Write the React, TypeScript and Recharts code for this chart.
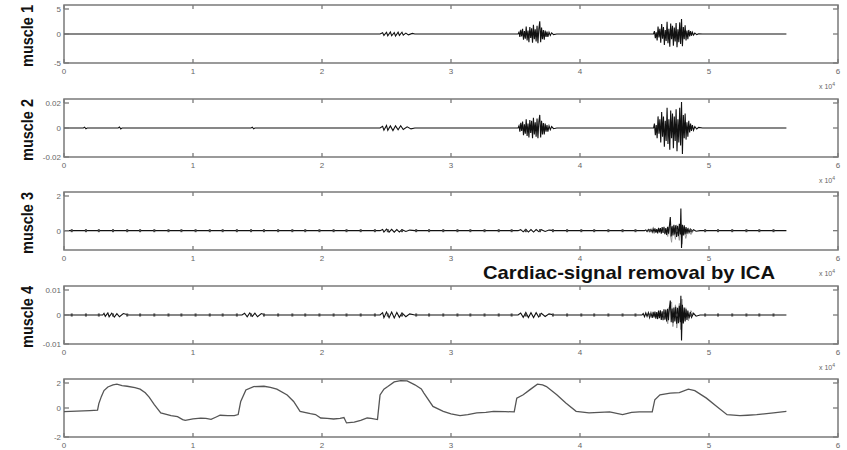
import { ComposedChart, Line, Scatter, XAxis, YAxis, ReferenceArea } from 'recharts';

// x values are sample index / 10^4
const xTicks = [0, 1, 2, 3, 4, 5, 6];

const muscle1: [number, number][] = [
  [0, 0], [2.45, 0],
  [2.47, 0.2], [2.48, -0.25], [2.5, 0.3], [2.51, -0.3], [2.53, 0.35], [2.54, -0.3], [2.56, 0.25],
  [2.57, -0.35], [2.59, 0.3], [2.6, -0.25], [2.62, 0.3], [2.63, -0.2], [2.65, 0.15], [2.67, -0.15],
  [2.7, 0.1], [2.72, 0], [3.52, 0],
  [3.527, 0.3], [3.534, -0.5], [3.541, 0.7], [3.548, -0.4], [3.555, 0.9], [3.562, -1.0], [3.569, 0.5],
  [3.576, -0.8], [3.583, 1.3], [3.59, -1.1], [3.597, 0.6], [3.604, -1.4], [3.611, 1.2], [3.618, -0.7],
  [3.625, 1.0], [3.632, -1.5], [3.639, 1.6], [3.646, -0.9], [3.653, 0.8], [3.66, -1.3], [3.667, 1.4],
  [3.674, -1.6], [3.681, 0.9], [3.688, 2.2], [3.695, -1.4], [3.702, 1.1], [3.709, -0.9], [3.716, 0.7],
  [3.723, -1.0], [3.73, 0.6], [3.737, -0.5], [3.744, 0.4], [3.751, -0.5], [3.76, 0.3], [3.77, -0.25],
  [3.78, 0.2], [3.795, -0.1], [3.82, 0], [4.57, 0],
  [4.577, 0.5], [4.584, -0.7], [4.591, 0.3], [4.598, -1.1], [4.605, 1.3], [4.612, -0.6], [4.619, 0.9],
  [4.626, -1.5], [4.633, 1.7], [4.64, -0.8], [4.647, 1.2], [4.654, -1.9], [4.661, 0.7], [4.668, -1.2],
  [4.675, 2.1], [4.682, -1.6], [4.689, 0.9], [4.696, -2.2], [4.703, 1.8], [4.71, -0.9], [4.717, 1.4],
  [4.724, -2.0], [4.731, 1.1], [4.738, -1.3], [4.745, 1.9], [4.752, -2.3], [4.759, 0.8], [4.766, -1.4],
  [4.773, 2.0], [4.78, -1.7], [4.787, 2.6], [4.794, -2.1], [4.801, 1.2], [4.808, -0.9], [4.815, 1.5],
  [4.822, -1.1], [4.829, 0.6], [4.836, -0.9], [4.843, 0.7], [4.85, -0.4], [4.857, 0.5], [4.864, -0.3],
  [4.871, 0.3], [4.88, -0.2], [4.89, 0.15], [4.905, -0.1], [4.92, 0.05], [4.95, 0], [5.6, 0],
];

const muscle2: [number, number][] = [
  [0, 0], [0.15, 0], [0.16, 0.0006], [0.17, -0.0005], [0.18, 0], [0.42, 0], [0.43, 0.0007],
  [0.44, -0.0006], [0.45, 0], [1.45, 0], [1.46, 0.0006], [1.47, -0.0006], [1.48, 0], [2.45, 0],
  [2.47, 0.0012], [2.48, -0.0015], [2.5, 0.0018], [2.51, -0.0016], [2.53, 0.0014], [2.55, -0.0018],
  [2.57, 0.0015], [2.59, -0.0012], [2.61, 0.0016], [2.63, -0.001], [2.66, 0.0008], [2.69, -0.0006],
  [2.72, 0], [3.52, 0],
  [3.527, 0.0015], [3.534, -0.0025], [3.541, 0.0035], [3.548, -0.002], [3.555, 0.0045], [3.562, -0.005],
  [3.569, 0.0025], [3.576, -0.004], [3.583, 0.006], [3.59, -0.0055], [3.597, 0.003], [3.604, -0.0065],
  [3.611, 0.0055], [3.618, -0.0035], [3.625, 0.005], [3.632, -0.007], [3.639, 0.007], [3.646, -0.0045],
  [3.653, 0.004], [3.66, -0.006], [3.667, 0.0065], [3.674, -0.007], [3.681, 0.0045], [3.688, 0.009],
  [3.695, -0.0065], [3.702, 0.005], [3.709, -0.0045], [3.716, 0.0035], [3.723, -0.0045], [3.73, 0.003],
  [3.737, -0.0025], [3.744, 0.002], [3.751, -0.0025], [3.76, 0.0015], [3.77, -0.0012], [3.78, 0.001],
  [3.795, -0.0005], [3.82, 0], [4.57, 0],
  [4.577, 0.003], [4.584, -0.005], [4.591, 0.002], [4.598, -0.007], [4.605, 0.008], [4.612, -0.004],
  [4.619, 0.006], [4.626, -0.01], [4.633, 0.011], [4.64, -0.006], [4.647, 0.008], [4.654, -0.013],
  [4.661, 0.005], [4.668, -0.009], [4.675, 0.014], [4.682, -0.011], [4.689, 0.006], [4.696, -0.015],
  [4.703, 0.012], [4.71, -0.007], [4.717, 0.01], [4.724, -0.014], [4.731, 0.008], [4.738, -0.009],
  [4.745, 0.013], [4.752, -0.016], [4.759, 0.006], [4.766, -0.01], [4.773, 0.014], [4.78, -0.012],
  [4.787, 0.018], [4.794, -0.018], [4.801, 0.009], [4.808, -0.007], [4.815, 0.01], [4.822, -0.008],
  [4.829, 0.004], [4.836, -0.006], [4.843, 0.005], [4.85, -0.003], [4.857, 0.003], [4.864, -0.002],
  [4.871, 0.002], [4.88, -0.0015], [4.89, 0.001], [4.905, -0.0007], [4.92, 0.0004], [4.95, 0], [5.6, 0],
];

const muscle3: [number, number][] = [
  [0, 0], [2.45, 0],
  [2.47, 0.06], [2.48, -0.07], [2.5, 0.08], [2.52, -0.08], [2.54, 0.07], [2.56, -0.08], [2.58, 0.06],
  [2.6, -0.07], [2.62, 0.05], [2.65, -0.04], [2.68, 0.03], [2.72, 0], [3.52, 0],
  [3.54, 0.05], [3.56, -0.06], [3.58, 0.07], [3.6, -0.07], [3.62, 0.06], [3.64, -0.07], [3.66, 0.06],
  [3.68, -0.05], [3.7, 0.05], [3.73, -0.04], [3.76, 0.03], [3.8, 0], [4.5, 0],
  [4.51, 0.04], [4.52, -0.05], [4.53, 0.06], [4.54, -0.04], [4.55, 0.07], [4.56, -0.08], [4.567, 0.1],
  [4.574, -0.07], [4.581, 0.12], [4.588, -0.1], [4.595, 0.08], [4.602, -0.14], [4.609, 0.15],
  [4.616, -0.09], [4.623, 0.13], [4.63, -0.16], [4.637, 0.18], [4.644, -0.12], [4.651, 0.2],
  [4.658, -0.18], [4.665, 0.14], [4.672, -0.22], [4.679, 0.2], [4.686, -0.15], [4.693, 0.25],
  [4.7, 0.7], [4.707, -0.3], [4.714, 0.22], [4.721, -0.25], [4.728, 0.3], [4.735, -0.2], [4.742, 0.28],
  [4.749, -0.32], [4.756, 0.24], [4.763, -0.28], [4.77, 0.35], [4.777, -0.2], [4.782, 1.15],
  [4.787, -0.9], [4.794, 0.3], [4.801, -0.25], [4.808, 0.28], [4.815, -0.2], [4.822, 0.18],
  [4.829, -0.15], [4.836, 0.12], [4.845, -0.1], [4.855, 0.08], [4.865, -0.06], [4.88, 0.05],
  [4.9, -0.03], [4.93, 0], [5.6, 0],
];

const muscle3Residual: [number, number][] = [
  [4.66, 0], [4.68, -0.3], [4.69, 0.2], [4.71, -0.6], [4.72, 0.25], [4.74, -0.45], [4.75, 0.3],
  [4.77, -0.5], [4.78, 0.4], [4.79, -0.7], [4.8, 0.2], [4.82, -0.4], [4.84, 0.15], [4.86, -0.2], [4.88, 0],
];

const muscle4: [number, number][] = [
  [0, 0], [0.3, 0], [0.31, 0.0006], [0.32, -0.0005], [0.34, 0.0007], [0.35, -0.0006], [0.37, 0.0006],
  [0.39, -0.0007], [0.41, 0.0005], [0.43, -0.0006], [0.46, 0.0005], [0.5, 0], [1.38, 0],
  [1.4, 0.0006], [1.42, -0.0006], [1.44, 0.0007], [1.46, -0.0005], [1.48, 0.0006], [1.5, -0.0006],
  [1.53, 0.0005], [1.56, 0], [2.45, 0],
  [2.47, 0.0008], [2.48, -0.0009], [2.5, 0.001], [2.52, -0.0009], [2.54, 0.001], [2.56, -0.001],
  [2.58, 0.0009], [2.6, -0.0008], [2.62, 0.0007], [2.65, -0.0006], [2.68, 0.0004], [2.72, 0], [3.52, 0],
  [3.54, 0.0007], [3.56, -0.0008], [3.58, 0.0009], [3.6, -0.0009], [3.62, 0.0008], [3.64, -0.0009],
  [3.66, 0.0008], [3.68, -0.0007], [3.7, 0.0006], [3.73, -0.0005], [3.76, 0.0004], [3.8, 0], [4.48, 0],
  [4.49, 0.0005], [4.5, -0.0006], [4.51, 0.0007], [4.52, -0.0005], [4.53, 0.0008], [4.54, -0.0009],
  [4.55, 0.0007], [4.56, -0.001], [4.567, 0.0011], [4.574, -0.0008], [4.581, 0.0012], [4.588, -0.0013],
  [4.595, 0.001], [4.602, -0.0014], [4.609, 0.0015], [4.616, -0.0011], [4.623, 0.0016], [4.63, -0.0017],
  [4.637, 0.0013], [4.644, -0.0018], [4.651, 0.002], [4.658, -0.0016], [4.665, 0.0019], [4.672, -0.0022],
  [4.679, 0.0021], [4.686, -0.0018], [4.693, 0.0023], [4.7, 0.005], [4.707, -0.0025], [4.714, 0.0022],
  [4.721, -0.0027], [4.728, 0.0026], [4.735, -0.0022], [4.742, 0.0028], [4.749, -0.003], [4.756, 0.0025],
  [4.763, -0.0028], [4.77, 0.0032], [4.777, -0.0025], [4.782, 0.0066], [4.787, -0.0088], [4.794, 0.0035],
  [4.801, -0.0028], [4.808, 0.0026], [4.815, -0.0022], [4.822, 0.002], [4.829, -0.0017], [4.836, 0.0015],
  [4.845, -0.0012], [4.855, 0.001], [4.865, -0.0008], [4.88, 0.0006], [4.9, -0.0004], [4.93, 0], [5.6, 0],
];

const muscle4Residual: [number, number][] = [
  [4.66, 0], [4.68, -0.003], [4.69, 0.0025], [4.71, 0.0045], [4.72, -0.004], [4.74, 0.0035],
  [4.75, -0.0045], [4.77, 0.004], [4.78, -0.005], [4.79, 0.0055], [4.8, -0.003], [4.82, 0.0025],
  [4.84, -0.002], [4.86, 0.0015], [4.88, 0],
];

// heartbeat residue seen along the baseline of muscles 3 and 4
const beats = [
  0.06, 0.17, 0.27, 0.38, 0.49, 0.59, 0.7, 0.81, 0.91, 1.02, 1.13, 1.23, 1.34, 1.45, 1.55, 1.66,
  1.77, 1.87, 1.98, 2.09, 2.19, 2.3, 2.41, 2.51, 2.62, 2.73, 2.83, 2.94, 3.05, 3.15, 3.26, 3.37,
  3.47, 3.58, 3.69, 3.79, 3.9, 4.01, 4.11, 4.22, 4.33, 4.43, 4.54, 4.65, 4.75, 4.86, 4.97, 5.07,
  5.18, 5.29, 5.39, 5.5,
];

const movement: [number, number][] = [
  [0, -0.25], [0.1, -0.22], [0.2, -0.18], [0.26, -0.15], [0.27, 0.3], [0.29, 0.8], [0.31, 1.2],
  [0.34, 1.45], [0.38, 1.6], [0.41, 1.64], [0.45, 1.55], [0.49, 1.5], [0.55, 1.4], [0.59, 1.3],
  [0.63, 1.05], [0.66, 0.75], [0.7, 0.23], [0.75, -0.34], [0.83, -0.53], [0.88, -0.6], [0.92, -0.8],
  [0.94, -0.85], [1.0, -0.75], [1.06, -0.7], [1.1, -0.72], [1.14, -0.78], [1.18, -0.62], [1.21, -0.5],
  [1.27, -0.52], [1.32, -0.53], [1.35, -0.45], [1.37, 0.45], [1.41, 1.25], [1.47, 1.48], [1.55, 1.5],
  [1.6, 1.42], [1.65, 1.3], [1.73, 0.9], [1.78, 0.45], [1.83, -0.23], [1.91, -0.39], [1.95, -0.45],
  [1.99, -0.69], [2.04, -0.72], [2.09, -0.76], [2.14, -0.72], [2.17, -0.66], [2.19, -1.03],
  [2.25, -0.98], [2.3, -0.85], [2.35, -0.69], [2.38, -0.72], [2.43, -0.8], [2.45, 0.9], [2.48, 1.3],
  [2.51, 1.48], [2.56, 1.8], [2.61, 1.89], [2.66, 1.87], [2.72, 1.6], [2.77, 1.32], [2.79, 1.03],
  [2.86, 0.11], [2.94, -0.23], [3.0, -0.4], [3.07, -0.53], [3.13, -0.45], [3.2, -0.34], [3.27, -0.3],
  [3.33, -0.23], [3.42, -0.25], [3.49, -0.27], [3.51, 0.68], [3.56, 0.91], [3.61, 1.25], [3.67, 1.64],
  [3.71, 1.6], [3.74, 1.48], [3.82, 0.91], [3.89, 0.34], [3.97, -0.23], [4.07, -0.34], [4.15, -0.3],
  [4.23, -0.27], [4.33, -0.46], [4.4, -0.3], [4.46, -0.27], [4.56, -0.27], [4.58, 0.57], [4.62, 0.91],
  [4.7, 1.03], [4.77, 1.06], [4.84, 1.3], [4.89, 1.2], [4.98, 0.68], [5.06, 0.11], [5.14, -0.46],
  [5.24, -0.53], [5.3, -0.5], [5.37, -0.46], [5.5, -0.34], [5.6, -0.23],
];

const toPoints = (arr: [number, number][]) => arr.map(([x, y]) => ({ x, y }));

const PLOT_TOP = 5;
const PLOT_H = 58;
const PLOT_BOTTOM = PLOT_TOP + PLOT_H;
const PLOT_LEFT = 64;
const PLOT_RIGHT = 838;
const AXIS = '#7a7a7a';
const LABEL = '#666';
const TRACE = '#111';
const FONT = 'Liberation Sans, Arial, sans-serif';

const panels = [
  { label: 'muscle 1', top: 5, domain: [-5, 5], ticks: [-5, 0, 5], main: muscle1 },
  { label: 'muscle 2', top: 99, domain: [-0.02, 0.02], ticks: [-0.02, 0, 0.02], main: muscle2 },
  { label: 'muscle 3', top: 192, domain: [-1, 2], ticks: [-1, 0, 1, 2], main: muscle3, residual: muscle3Residual, beats: true },
  { label: 'muscle 4', top: 286, domain: [-0.01, 0.01], ticks: [-0.01, 0, 0.01], main: muscle4, residual: muscle4Residual, beats: true },
  { label: '', top: 379, domain: [-2, 2], ticks: [-2, 0, 2], main: movement, smooth: true },
];

const makeXTick = (showExp: boolean) => (props: any) => {
  const { x, payload } = props;
  return (
    <g>
      <line x1={x} x2={x} y1={PLOT_BOTTOM} y2={PLOT_BOTTOM - 4} stroke={AXIS} strokeWidth={1.3} />
      <line x1={x} x2={x} y1={PLOT_TOP} y2={PLOT_TOP + 4} stroke={AXIS} strokeWidth={1.3} />
      <text x={x} y={PLOT_BOTTOM + 11} textAnchor="middle" fontSize={8} fill={LABEL} fontFamily={FONT}>
        {payload.value}
      </text>
      {showExp && payload.value === 6 && (
        <text x={x - 3} y={PLOT_BOTTOM + 26} textAnchor="end" fontSize={7} fill={LABEL} fontFamily={FONT}>
          x 10<tspan dy={-3} fontSize={5}>4</tspan>
        </text>
      )}
    </g>
  );
};

const renderYTick = (props: any) => {
  const { y, payload } = props;
  return (
    <g>
      <line x1={PLOT_LEFT} x2={PLOT_LEFT + 5} y1={y} y2={y} stroke={AXIS} strokeWidth={1.3} />
      <line x1={PLOT_RIGHT} x2={PLOT_RIGHT - 5} y1={y} y2={y} stroke={AXIS} strokeWidth={1.3} />
      <text x={PLOT_LEFT - 3} y={y + 3} textAnchor="end" fontSize={8} fill={LABEL} fontFamily={FONT}>
        {payload.value}
      </text>
    </g>
  );
};

const beatMark = (props: any) => (
  <rect x={props.cx - 1} y={props.cy - 1.5} width={2} height={3} fill="#444" />
);

export default function App() {
  return (
    <div style={{ position: 'absolute', left: 0, top: 0, width: 847, height: 450, background: '#fff', overflow: 'hidden' }}>
      {panels.map((p, i) => (
        <div key={p.top} style={{ position: 'absolute', left: 0, top: p.top - PLOT_TOP }}>
          <ComposedChart width={847} height={93} margin={{ top: PLOT_TOP, right: 847 - PLOT_RIGHT, bottom: 10, left: PLOT_LEFT - 30 }}>
            <XAxis
              type="number"
              dataKey="x"
              domain={[0, 6]}
              ticks={xTicks}
              allowDataOverflow
              height={20}
              axisLine={false}
              tickLine={false}
              tick={makeXTick(i < panels.length - 1)}
            />
            <YAxis
              type="number"
              dataKey="y"
              domain={p.domain}
              ticks={p.ticks}
              allowDataOverflow
              width={30}
              axisLine={false}
              tickLine={false}
              tick={renderYTick}
            />
            <ReferenceArea x1={0} x2={6} y1={p.domain[0]} y2={p.domain[1]} fill="none" stroke={AXIS} strokeWidth={1.5} />
            {p.residual && (
              <Line data={toPoints(p.residual)} dataKey="y" type="linear" stroke="#9a9a9a" strokeWidth={1} dot={false} isAnimationActive={false} />
            )}
            <Line
              data={toPoints(p.main)}
              dataKey="y"
              type="linear"
              stroke={p.smooth ? '#555' : TRACE}
              strokeWidth={p.smooth ? 1.3 : 1.1}
              dot={false}
              isAnimationActive={false}
            />
            {p.beats && (
              <Scatter data={beats.map((x) => ({ x, y: 0 }))} shape={beatMark} isAnimationActive={false} />
            )}
          </ComposedChart>
        </div>
      ))}
      <svg width={847} height={450} style={{ position: 'absolute', left: 0, top: 0, pointerEvents: 'none' }}>
        {panels.filter((p) => p.label).map((p) => (
          <text
            key={p.label}
            transform={`translate(33, ${p.top + PLOT_H / 2 + 2}) rotate(-90)`}
            textAnchor="middle"
            fontSize={16}
            fontWeight="bold"
            fontFamily={FONT}
            textLength={62}
            lengthAdjust="spacingAndGlyphs"
            fill="#111"
          >
            {p.label}
          </text>
        ))}
        <text
          x={483}
          y={279}
          fontSize={19}
          fontWeight="bold"
          fontFamily={FONT}
          textLength={292}
          lengthAdjust="spacingAndGlyphs"
          fill="#111"
        >
          Cardiac-signal removal by ICA
        </text>
      </svg>
    </div>
  );
}
